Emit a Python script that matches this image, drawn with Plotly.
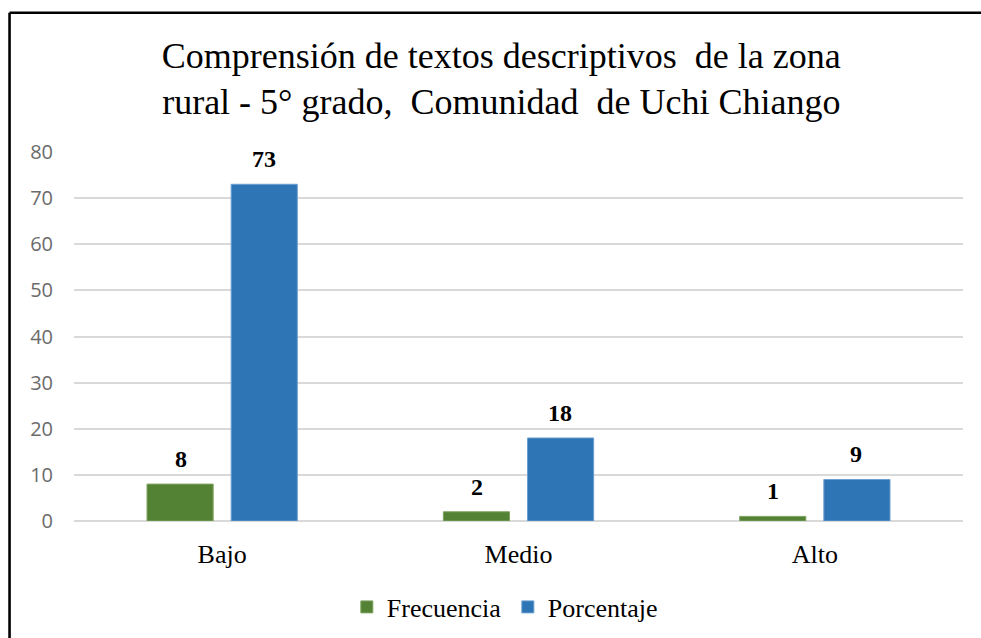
import plotly.graph_objects as go

categories = ["Bajo", "Medio", "Alto"]
frecuencia = [8, 2, 1]
porcentaje = [73, 18, 9]
y_ticks = [0, 10, 20, 30, 40, 50, 60, 70, 80]
title_text = "Comprensión de textos descriptivos  de la zona<br>rural - 5° grado,  Comunidad  de Uchi Chiango"

GREEN = "#548235"
BLUE = "#2E75B6"
SERIF = "Liberation Serif, Times New Roman, serif"

fig = go.Figure()
fig.add_trace(go.Bar(name="Frecuencia", x=categories, y=frecuencia,
                     marker=dict(color=GREEN, line=dict(color="#7FA360", width=1))))
fig.add_trace(go.Bar(name="Porcentaje", x=categories, y=porcentaje,
                     marker=dict(color=BLUE, line=dict(color="#6A9FD0", width=1))))

# data labels above bars
for vals, shift in ((frecuencia, -41.5), (porcentaje, 41.5)):
    for c, v in zip(categories, vals):
        fig.add_annotation(x=c, y=v, text=f"<b>{v}</b>", showarrow=False,
                           xshift=shift, yshift=25, yanchor="middle",
                           font=dict(family=SERIF, size=24, color="#000000"))

# outer border
fig.add_shape(type="line", xref="paper", yref="paper", x0=-0.0725, x1=1.05, y0=1.3775, y1=1.3775,
              line=dict(color="#000000", width=2.6))
fig.add_shape(type="line", xref="paper", yref="paper", x0=-0.0725, x1=-0.0725, y0=1.3775, y1=-0.35,
              line=dict(color="#000000", width=2.6))

fig.update_layout(
    width=981, height=638,
    margin=dict(l=74, r=18, t=152, b=117, autoexpand=False),
    paper_bgcolor="white", plot_bgcolor="white",
    barmode="group", bargap=0.432, bargroupgap=0.214,
    title=dict(text=title_text, x=0.511, xanchor="center", y=0.894, yanchor="middle",
               font=dict(family=SERIF, size=36, color="#000000")),
    showlegend=True,
    legend=dict(orientation="h", x=0.488, xanchor="center", y=-0.233, yanchor="middle",
                font=dict(family=SERIF, size=26, color="#000000"),
                itemwidth=30, tracegroupgap=0, entrywidth=116, entrywidthmode="pixels"),
    xaxis=dict(showgrid=False, showline=False, ticks="", ticklabelstandoff=15, automargin=False,
               tickfont=dict(family=SERIF, size=26, color="#000000")),
    yaxis=dict(range=[0, 80], tickvals=y_ticks, showgrid=True, gridcolor="#D9D9D9", gridwidth=1.5,
               zeroline=True, zerolinecolor="#D9D9D9", zerolinewidth=1.5, showline=False, ticks="",
               ticklabelstandoff=20, automargin=False,
               tickfont=dict(family="Open Sans, Liberation Sans, sans-serif", size=20, color="#6B6B6B")),
)

fig.write_html("out.html", config={"displayModeBar": False},
               post_script="document.body.style.margin='0';document.body.style.padding='0';")
